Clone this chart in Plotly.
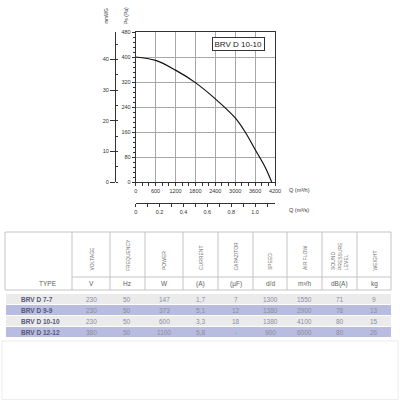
import plotly.graph_objects as go

# ---- fan curve data (BRV D 10-10) ----
q_m3h = [0, 600, 1200, 1800, 2400, 3000, 3300, 3600, 3900, 4100]
ps_pa = [400, 389, 358, 318, 266, 205, 160, 104, 48, 0]
curve_name = "BRV D 10-10"

# ---- axis ticks ----
pa_ticks = [0, 80, 160, 240, 320, 400, 480]
q_ticks = [0, 600, 1200, 1800, 2400, 3000, 3600, 4200]
mmwg_ticks = [0, 10, 20, 30, 40]
qs_ticks = [0, 0.2, 0.4, 0.6, 0.8, 1.0]

# ---- table data ----
headers = ["VOLTAGE", "FREQUENCY", "POWER", "CURRENT", "CAPAZITOR", "SPEED",
           "AIR FLOW", "SOUND<br>PRESSURE<br>LEVEL", "WEIGHT"]
units = ["V", "Hz", "W", "(A)", "(µF)", "d/d", "m³/h", "dB(A)", "kg"]
types = ["BRV D 7-7", "BRV D 9-9", "BRV D 10-10", "BRV D 12-12"]
voltage = ["230", "230", "230", "380"]
frequency = ["50", "50", "50", "50"]
power = ["147", "373", "600", "1100"]
current = ["1,7", "5,1", "3,3", "5,8"]
capacitor = ["7", "12", "18", "-"]
speed = ["1300", "1380", "1380", "900"]
airflow = ["1550", "2900", "4100", "6000"]
sound = ["71", "78", "80", "80"]
weight = ["9", "13", "15", "26"]
columns = [voltage, frequency, power, current, capacitor, speed, airflow, sound, weight]

W = 400.0
def X(px):
    return px / W
def Y(py):
    return 1 - py / W

FONT = "Liberation Sans"
fig = go.Figure()

fig.add_trace(go.Scatter(x=q_m3h, y=ps_pa, mode="lines", line=dict(color="#111", width=1.2, shape="spline"),
                         xaxis="x", yaxis="y", showlegend=False, hoverinfo="skip"))
# invisible helpers so the secondary axes are drawn
fig.add_trace(go.Scatter(x=[0], y=[0], mode="markers", marker=dict(opacity=0), xaxis="x", yaxis="y2",
                         showlegend=False, hoverinfo="skip"))
fig.add_trace(go.Scatter(x=[0], y=[0], mode="markers", marker=dict(opacity=0), xaxis="x2", yaxis="y",
                         showlegend=False, hoverinfo="skip"))

x0p, x1p = 135.7, 275.0
ytop, ybot = 32.0, 182.0
tickfont = dict(family=FONT, size=5.5, color="#333")

fig.update_layout(
    width=400, height=400, margin=dict(l=0, r=0, t=0, b=0, autoexpand=False),
    paper_bgcolor="white", plot_bgcolor="white", showlegend=False,
    font=dict(family=FONT),
    xaxis=dict(domain=[X(x0p), X(x1p)], range=[0, 4200], tickvals=q_ticks, showgrid=True, automargin=False,
               gridcolor="#a8a8a8", gridwidth=1, showline=True, linecolor="#333", linewidth=1, mirror=True,
               ticks="outside", ticklen=3, tickcolor="#333", tickfont=tickfont, zeroline=False,
               minor=dict(dtick=200, tick0=0, ticks="outside", ticklen=3, tickcolor="#333", showgrid=False),
               anchor="y"),
    yaxis=dict(domain=[Y(ybot), Y(ytop)], range=[0, 480], tickvals=pa_ticks, showgrid=True, automargin=False,
               gridcolor="#a8a8a8", gridwidth=1, showline=True, linecolor="#333", linewidth=1, mirror=True,
               ticks="outside", ticklen=3, tickcolor="#333", tickfont=tickfont, zeroline=False,
               minor=dict(dtick=16, tick0=0, ticks="outside", ticklen=2, tickcolor="#333", showgrid=False),
               anchor="x"),
    yaxis2=dict(overlaying="y", anchor="free", position=X(115), range=[0, 480 / 9.81], tickvals=mmwg_ticks,
                showgrid=False, showline=True, linecolor="#333", linewidth=1, ticks="outside", ticklen=5,
                tickcolor="#333", tickfont=tickfont, zeroline=False, side="left", automargin=False,
                minor=dict(dtick=5, tick0=0, ticks="inside", ticklen=2, tickcolor="#333", showgrid=False)),
    xaxis2=dict(overlaying="x", anchor="free", position=Y(203), range=[0, 4200 / 3600], tickvals=qs_ticks,
                ticktext=["0", "0.2", "0.4", "0.6", "0.8", "1.0"], automargin=False,
                showgrid=False, showline=True, linecolor="#333", linewidth=1, ticks="outside", ticklen=3,
                tickcolor="#333", tickfont=tickfont, zeroline=False, side="bottom",
                minor=dict(dtick=0.1, tick0=0, ticks="outside", ticklen=3, tickcolor="#333", showgrid=False)),
)

ann = []
shapes = []

def txt(px, py, text, font, xanchor="center", yanchor="middle", **kw):
    ann.append(dict(x=X(px), y=Y(py), xref="paper", yref="paper", text=text, showarrow=False,
                    xanchor=xanchor, yanchor=yanchor, font=font, **kw))

# axis titles
txt(105.5, 16, "mmWG", dict(family=FONT, size=4.5, color="#333"), textangle=-90)
txt(126, 16, "Ps (Pa)", dict(family=FONT, size=5, color="#333"), textangle=-90)
txt(287, 189.5, "Q (m³/h)", dict(family=FONT, size=5.5, color="#333"), xanchor="left")
txt(287, 209.5, "Q (m³/s)", dict(family=FONT, size=5.5, color="#333"), xanchor="left")
# legend box
txt(238.5, 44, curve_name, dict(family=FONT, size=8, color="#222"), bordercolor="#333", borderwidth=1,
    borderpad=1.5, bgcolor="white")

# ---- table ----
bounds = [72, 110, 145, 183, 218, 253, 287, 322, 357, 391]
lc = "#c4c4c4"
shapes.append(dict(type="rect", xref="paper", yref="paper", x0=X(5), x1=X(391), y0=Y(290), y1=Y(232),
                   line=dict(color=lc, width=1)))
for b in bounds[:-1]:
    shapes.append(dict(type="line", xref="paper", yref="paper", x0=X(b), x1=X(b), y0=Y(290), y1=Y(232),
                       line=dict(color=lc, width=1)))
shapes.append(dict(type="line", xref="paper", yref="paper", x0=X(72), x1=X(391), y0=Y(277), y1=Y(277),
                   line=dict(color=lc, width=1)))

hfont = dict(family=FONT, size=5, color="#707070")
ufont = dict(family=FONT, size=6.5, color="#606060")
for i, h in enumerate(headers):
    cx = (bounds[i] + bounds[i + 1]) / 2
    txt(cx, 272.5, h, hfont, yanchor="bottom", textangle=-90, align="left")
    txt(cx, 283.5, units[i], ufont)
txt(48, 283.5, "TYPE", ufont)

row_top = [294, 305, 316, 327]
row_h = 10
fills = ["#ebebeb", "#b8bce0", "#ebebeb", "#b8bce0"]
for r, t in enumerate(types):
    yt = row_top[r]
    shapes.append(dict(type="rect", xref="paper", yref="paper", x0=X(6), x1=X(391), y0=Y(yt + row_h), y1=Y(yt),
                       line=dict(width=0), fillcolor=fills[r], layer="below"))
    yc = yt + row_h / 2
    txt(19, yc, "<b>" + t + "</b>", dict(family=FONT, size=6.5, color="#555878"), xanchor="left")
    for i, col in enumerate(columns):
        cx = (bounds[i] + bounds[i + 1]) / 2
        txt(cx, yc, col[r], dict(family=FONT, size=6.5, color="#8c8c9c"))

shapes.append(dict(type="rect", xref="paper", yref="paper", x0=X(2), x1=X(398), y0=Y(399.5), y1=Y(341),
                   line=dict(color="#ececec", width=1)))

fig.update_layout(annotations=ann, shapes=shapes)
fig.write_html("out.html")
